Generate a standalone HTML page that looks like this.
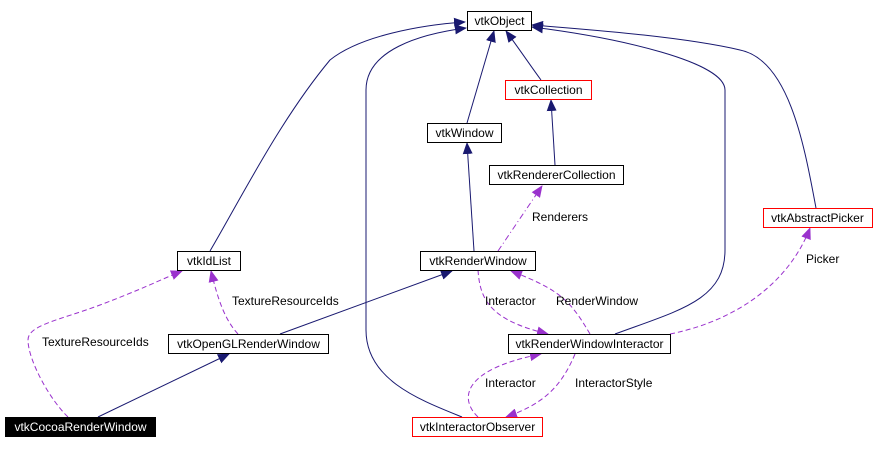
<!DOCTYPE html><html><head><style>
body{margin:0;background:#fff;width:874px;height:448px;overflow:hidden}
svg text{font-family:"Liberation Sans",sans-serif;font-size:12px}
</style></head><body>
<svg width="874" height="448" xmlns="http://www.w3.org/2000/svg">
<defs>
<marker id="n" markerWidth="12" markerHeight="10" refX="11" refY="5" orient="auto" markerUnits="userSpaceOnUse"><path d="M0,0 L12,5 L0,10z" fill="#191970"/></marker>
<marker id="p" markerWidth="12" markerHeight="10" refX="11" refY="5" orient="auto" markerUnits="userSpaceOnUse"><path d="M0,0 L12,5 L0,10z" fill="#9a32cd"/></marker>
</defs>
<g fill="none" stroke="#191970" stroke-width="1">
<path d="M210,251 C240,200 280,120 330,60 C360,36 420,25 465,22" marker-end="url(#n)"/>
<path d="M462,417 C420,400 366,380 366,330 L366,90 C366,50 420,34 466,28" marker-end="url(#n)"/>
<path d="M467,123 L494,31" marker-end="url(#n)"/>
<path d="M541,80 C530,65 520,50 506,31" marker-end="url(#n)"/>
<path d="M555,165 L551,100" marker-end="url(#n)"/>
<path d="M474,251 L467,143" marker-end="url(#n)"/>
<path d="M615,334 C680,310 725,300 725,250 L725,90 C725,62 620,38 532,27" marker-end="url(#n)"/>
<path d="M816,208 C805,150 790,60 740,50 C680,36 580,29 532,25" marker-end="url(#n)"/>
<path d="M280,334 L452,271" marker-end="url(#n)"/>
<path d="M98,417 L229,354" marker-end="url(#n)"/>
</g>
<g fill="none" stroke="#9a32cd" stroke-width="1" stroke-dasharray="5,3">
<path d="M238,334 C225,320 218,300 211,271" marker-end="url(#p)"/>
<path d="M68,417 C50,400 28,360 28,340 C28,325 60,320 100,305 C140,290 160,280 182,271" marker-end="url(#p)"/>
<path d="M498,251 L542,186" stroke-dasharray="6,3,1,3" marker-end="url(#p)"/>
<path d="M478,270 C480,300 490,320 548,334" marker-end="url(#p)"/>
<path d="M590,334 C570,300 560,290 511,271" marker-end="url(#p)"/>
<path d="M670,334 C740,320 790,280 810,228" marker-end="url(#p)"/>
<path d="M478,417 C460,400 460,370 541,354" marker-end="url(#p)"/>
<path d="M575,354 C560,390 540,405 506,417" marker-end="url(#p)"/>
</g>
<g stroke="#000" fill="#fff">
<rect x="467.5" y="11.5" width="64" height="19"/>
<rect x="505.5" y="80.5" width="86" height="19" stroke="#f00"/>
<rect x="427.5" y="123.5" width="74" height="19"/>
<rect x="489.5" y="165.5" width="134" height="19"/>
<rect x="763.5" y="208.5" width="109" height="19" stroke="#f00"/>
<rect x="177.5" y="251.5" width="63" height="19"/>
<rect x="420.5" y="251.5" width="115" height="19"/>
<rect x="168.5" y="334.5" width="160" height="19"/>
<rect x="508.5" y="334.5" width="162" height="19"/>
<rect x="5.5" y="417.5" width="150" height="19" fill="#000"/>
<rect x="412.5" y="417.5" width="130" height="19" stroke="#f00"/>
</g>
<g text-anchor="middle">
<text x="499.5" y="25">vtkObject</text>
<text x="548.5" y="94">vtkCollection</text>
<text x="464.5" y="137">vtkWindow</text>
<text x="556.5" y="179">vtkRendererCollection</text>
<text x="817.5" y="222">vtkAbstractPicker</text>
<text x="209" y="265">vtkIdList</text>
<text x="478" y="265">vtkRenderWindow</text>
<text x="248.5" y="348">vtkOpenGLRenderWindow</text>
<text x="589.5" y="348">vtkRenderWindowInteractor</text>
<text x="80.5" y="431" fill="#fff">vtkCocoaRenderWindow</text>
<text x="477.5" y="431">vtkInteractorObserver</text>
</g>
<g>
<text x="532" y="221">Renderers</text>
<text x="806" y="263">Picker</text>
<text x="232" y="305">TextureResourceIds</text>
<text x="42" y="346">TextureResourceIds</text>
<text x="485" y="305">Interactor</text>
<text x="556" y="305">RenderWindow</text>
<text x="485" y="387">Interactor</text>
<text x="575" y="387">InteractorStyle</text>
</g>
</svg>
</body></html>
